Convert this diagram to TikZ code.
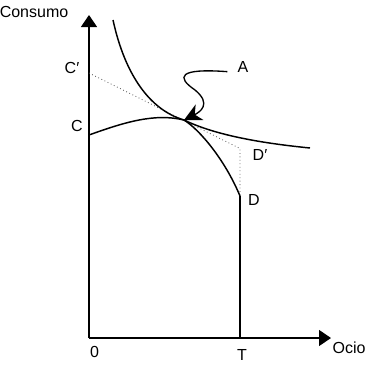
\documentclass[tikz,border=0pt]{standalone}
\usepackage{fontspec}
\setmainfont{Liberation Sans}
\usepackage{tikz}
\usetikzlibrary{arrows.meta}
\tikzset{
  ax/.style={draw=black, line width=1pt, -{Triangle[length=9pt,width=12pt]}},
  crv/.style={draw=black, line width=1.1pt},
  bud/.style={draw=black!70, line width=0.6pt, dotted},
  ptr/.style={draw=black, line width=1pt, -{Stealth[length=13pt,width=13pt,inset=4pt]}},
  lbl/.style={font=\fontsize{12}{14}\selectfont, inner sep=0pt}
}
\begin{document}
\begin{tikzpicture}[x=0.75pt,y=-0.75pt]
  \useasboundingbox (0,0) rectangle (367,368);
  % points of the diagram
  \coordinate (O) at (89,338);
  \coordinate (C) at (89,135);
  \coordinate (Cp) at (89,73);
  \coordinate (E) at (184,120);
  \coordinate (D) at (240,196);
  \coordinate (Dp) at (240,148.5);
  \coordinate (T) at (240,338);
  \coordinate (ytop) at (89,15);
  \coordinate (xend) at (331,338);
  \coordinate (Itop) at (113,20);
  \coordinate (Iend) at (310,148);
  % labels
  \node[lbl] (consumo) at (34,12) {Consumo};
  \node[lbl] (ocio) at (349,348) {Ocio};
  \node[lbl] (lO) at (94.5,352) {0};
  \node[lbl] (lT) at (242,355) {T};
  \node[lbl] (lC) at (77,126) {C};
  \node[lbl] (lCp) at (72,68) {C′};
  \node[lbl] (lA) at (243,67) {A};
  \node[lbl] (lDp) at (260,155) {D′};
  \node[lbl] (lD) at (254,200) {D};
  % axes
  \draw[ax] (O) -- (ytop);
  \draw[ax] (O) -- (xend);
  \draw[crv] (T) -- (D);
  % budget line
  \draw[bud] (Cp) -- (Dp) -- (D);
  % frontier and indifference curve
  \draw[crv] (C) .. controls (125,122) and (155,113) .. (E)
    .. controls (200,130) and (225,160) .. (D);
  \draw[crv] (Itop) .. controls (125,75) and (150,110) .. (E)
    .. controls (215,135) and (260,143) .. (Iend);
  % pointer
  \draw[ptr] ([xshift=-7.5pt,yshift=-3.5pt]lA.west) .. controls (178,68) and (176,77) .. (195,90)
    .. controls (212,104) and (200,112) .. (E);
\end{tikzpicture}
\end{document}
